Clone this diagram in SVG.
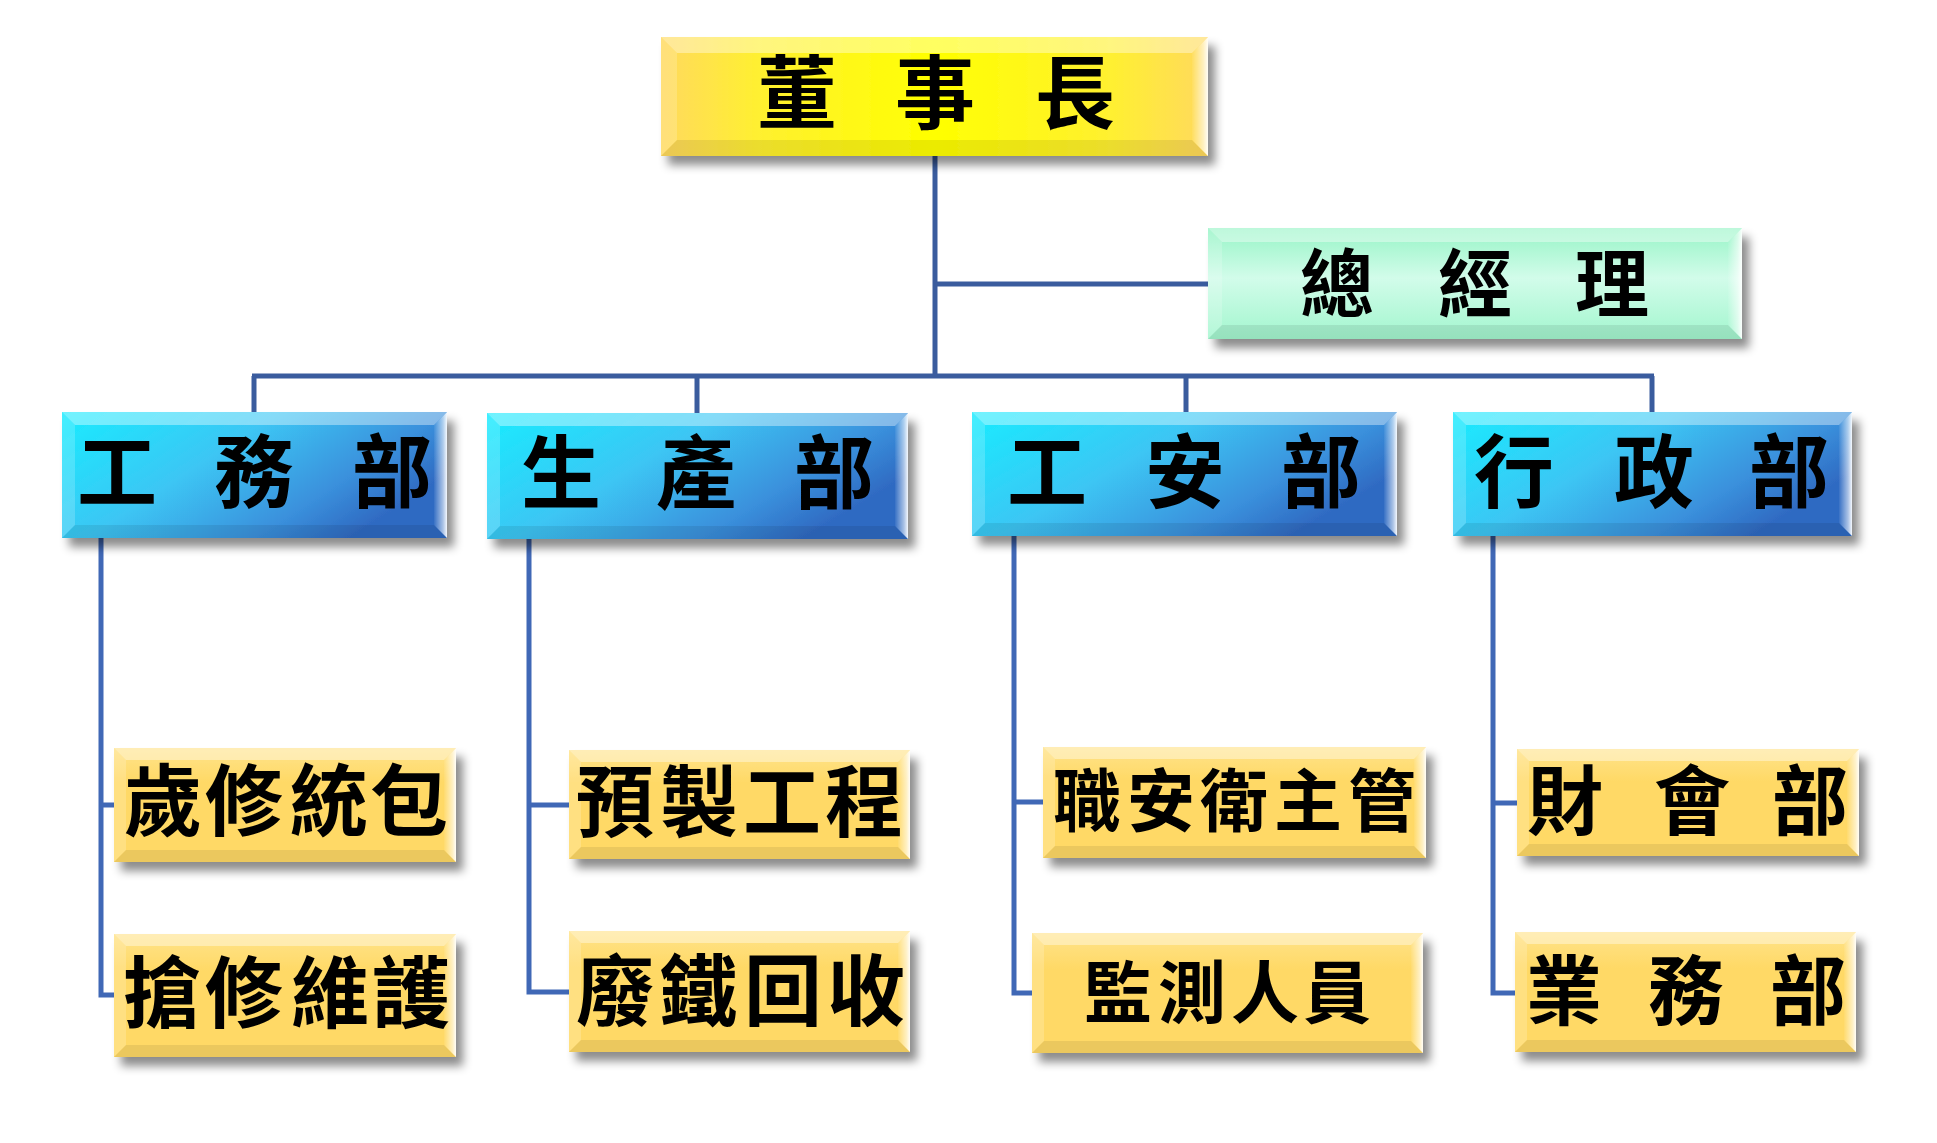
<svg xmlns="http://www.w3.org/2000/svg" width="1937" height="1143" viewBox="0 0 1937 1143">
<defs>
<style>
.t{font-family:"Noto Sans CJK TC","Noto Sans CJK SC",sans-serif;font-weight:700;fill:#000;text-anchor:middle;dominant-baseline:central}
.bt{fill:#fff;fill-opacity:.38}
.bl{fill:#fff;fill-opacity:.18}
.bb{fill:#000;fill-opacity:.08}
.br{fill:url(#hl)}
.c{fill:none;stroke:#3A5C9E;stroke-width:5}
.c2{fill:none;stroke:#4068B6;stroke-width:5}
</style>
<filter id="sh" x="-10%" y="-20%" width="125%" height="160%">
<feGaussianBlur in="SourceAlpha" stdDeviation="5"/>
<feOffset dx="7" dy="9" result="o"/>
<feFlood flood-color="#000" flood-opacity=".45"/>
<feComposite in2="o" operator="in" result="s"/>
<feMerge><feMergeNode in="s"/><feMergeNode in="SourceGraphic"/></feMerge>
</filter>
<linearGradient id="hl" x1="0" y1="0" x2="1" y2="0">
<stop offset="0" stop-color="#fff" stop-opacity=".05"/>
<stop offset=".7" stop-color="#fff" stop-opacity=".6"/>
<stop offset="1" stop-color="#fff" stop-opacity=".95"/>
</linearGradient>
<linearGradient id="gy" x1="0" y1="0" x2="1" y2="0">
<stop offset="0" stop-color="#FFD95E"/>
<stop offset=".18" stop-color="#FFF030"/>
<stop offset=".5" stop-color="#FFFF00"/>
<stop offset=".82" stop-color="#FFF030"/>
<stop offset="1" stop-color="#FFD95E"/>
</linearGradient>
<linearGradient id="gm" x1="0" y1="0" x2="0" y2="1">
<stop offset="0" stop-color="#96F4C6"/>
<stop offset=".45" stop-color="#D2FCEA"/>
<stop offset="1" stop-color="#A2F6CE"/>
</linearGradient>
<linearGradient id="gb" x1="0" y1="0" x2="1" y2="0.5">
<stop offset="0" stop-color="#18ECFF"/>
<stop offset=".45" stop-color="#3CC6F4"/>
<stop offset=".8" stop-color="#3A90DC"/>
<stop offset="1" stop-color="#2F6AC2"/>
</linearGradient>
<linearGradient id="go" x1="0" y1="0" x2="0" y2="1">
<stop offset="0" stop-color="#FFE38A"/>
<stop offset=".3" stop-color="#FFD966"/>
<stop offset="1" stop-color="#FFD966"/>
</linearGradient>
</defs>
<rect width="1937" height="1143" fill="#fff"/>

<g id="connectors">
<path class="c" d="M935 156V378M935 284H1208M252 376H1654M254 376V412M697 376V413M1186 376V412M1652 376V412"/>
<path class="c2" d="M101 538V995H114M101 805H114M529 539V992H569M529 805H569M1014 536V993H1032M1014 802H1043M1493 536V993H1515M1493 803H1517"/>
</g>

<g id="chairman">
<rect x="661" y="37" width="547" height="119" fill="url(#gy)" filter="url(#sh)"/>
<polygon class="bt" points="661,37 1208,37 1192,53 677,53"/>
<polygon class="bl" points="661,37 677,53 677,140 661,156"/>
<polygon class="bb" points="661,156 677,140 1192,140 1208,156"/>
<polygon class="br" points="1208,37 1208,156 1192,140 1192,53"/>
<text class="t" font-size="80" x="797 866 935 1005 1075" y="87">董 事 長</text>
</g>

<g id="gm-node">
<rect x="1208" y="228" width="534" height="111" fill="url(#gm)" filter="url(#sh)"/>
<polygon class="bt" points="1208,228 1742,228 1728,242 1222,242"/>
<polygon class="bl" points="1208,228 1222,242 1222,325 1208,339"/>
<polygon class="bb" points="1208,339 1222,325 1728,325 1742,339"/>
<polygon class="br" points="1742,228 1742,339 1728,325 1728,242"/>
<text class="t" font-size="74" x="1337 1406 1475 1543 1612" y="278">總 經 理</text>
</g>

<g id="dept-works">
<rect x="62" y="412" width="385" height="126" fill="url(#gb)" filter="url(#sh)"/>
<polygon class="bt" points="62,412 447,412 434,425 75,425"/>
<polygon class="bl" points="62,412 75,425 75,525 62,538"/>
<polygon class="bb" points="62,538 75,525 434,525 447,538"/>
<polygon class="br" points="447,412 447,538 434,525 434,425"/>
<text class="t" font-size="80" x="117 185 254 323 392" y="466">工 務 部</text>
</g>

<g id="dept-production">
<rect x="487" y="413" width="421" height="126" fill="url(#gb)" filter="url(#sh)"/>
<polygon class="bt" points="487,413 908,413 895,426 500,426"/>
<polygon class="bl" points="487,413 500,426 500,526 487,539"/>
<polygon class="bb" points="487,539 500,526 895,526 908,539"/>
<polygon class="br" points="908,413 908,539 895,526 895,426"/>
<text class="t" font-size="80" x="561 628 696 765 834" y="467">生 產 部</text>
</g>

<g id="dept-safety">
<rect x="972" y="412" width="425" height="124" fill="url(#gb)" filter="url(#sh)"/>
<polygon class="bt" points="972,412 1397,412 1384,425 985,425"/>
<polygon class="bl" points="972,412 985,425 985,523 972,536"/>
<polygon class="bb" points="972,536 985,523 1384,523 1397,536"/>
<polygon class="br" points="1397,412 1397,536 1384,523 1384,425"/>
<text class="t" font-size="80" x="1047 1116 1185 1253 1321" y="466">工 安 部</text>
</g>

<g id="dept-admin">
<rect x="1453" y="412" width="399" height="124" fill="url(#gb)" filter="url(#sh)"/>
<polygon class="bt" points="1453,412 1852,412 1839,425 1466,425"/>
<polygon class="bl" points="1453,412 1466,425 1466,523 1453,536"/>
<polygon class="bb" points="1453,536 1466,523 1839,523 1852,536"/>
<polygon class="br" points="1852,412 1852,536 1839,523 1839,425"/>
<text class="t" font-size="80" x="1514 1584 1654 1721 1789" y="466">行 政 部</text>
</g>

<g id="annual-repair">
<rect x="114" y="748" width="342" height="114" fill="url(#go)" filter="url(#sh)"/>
<polygon class="bt" points="114,748 456,748 444,760 126,760"/>
<polygon class="bl" points="114,748 126,760 126,850 114,862"/>
<polygon class="bb" points="114,862 126,850 444,850 456,862"/>
<polygon class="br" points="456,748 456,862 444,850 444,760"/>
<text class="t" font-size="78" x="163 244 329 409" y="796">歲修統包</text>
</g>

<g id="emergency-repair">
<rect x="114" y="934" width="342" height="123" fill="url(#go)" filter="url(#sh)"/>
<polygon class="bt" points="114,934 456,934 444,946 126,946"/>
<polygon class="bl" points="114,934 126,946 126,1045 114,1057"/>
<polygon class="bb" points="114,1057 126,1045 444,1045 456,1057"/>
<polygon class="br" points="456,934 456,1057 444,1045 444,946"/>
<text class="t" font-size="78" x="162 244 330 411" y="988">搶修維護</text>
</g>

<g id="prefab">
<rect x="569" y="750" width="341" height="109" fill="url(#go)" filter="url(#sh)"/>
<polygon class="bt" points="569,750 910,750 898,762 581,762"/>
<polygon class="bl" points="569,750 581,762 581,847 569,859"/>
<polygon class="bb" points="569,859 581,847 898,847 910,859"/>
<polygon class="br" points="910,750 910,859 898,847 898,762"/>
<text class="t" font-size="78" x="615 699 782 864" y="797">預製工程</text>
</g>

<g id="scrap">
<rect x="569" y="931" width="341" height="121" fill="url(#go)" filter="url(#sh)"/>
<polygon class="bt" points="569,931 910,931 898,943 581,943"/>
<polygon class="bl" points="569,931 581,943 581,1040 569,1052"/>
<polygon class="bb" points="569,1052 581,1040 898,1040 910,1052"/>
<polygon class="br" points="910,931 910,1052 898,1040 898,943"/>
<text class="t" font-size="78" x="615 698 783 866" y="986">廢鐵回收</text>
</g>

<g id="safety-manager">
<rect x="1043" y="747" width="383" height="111" fill="url(#go)" filter="url(#sh)"/>
<polygon class="bt" points="1043,747 1426,747 1414,759 1055,759"/>
<polygon class="bl" points="1043,747 1055,759 1055,846 1043,858"/>
<polygon class="bb" points="1043,858 1055,846 1414,846 1426,858"/>
<polygon class="br" points="1426,747 1426,858 1414,846 1414,759"/>
<text class="t" font-size="68" x="1087 1161 1234 1308 1382" y="796">職安衛主管</text>
</g>

<g id="monitoring">
<rect x="1032" y="933" width="391" height="120" fill="url(#go)" filter="url(#sh)"/>
<polygon class="bt" points="1032,933 1423,933 1411,945 1044,945"/>
<polygon class="bl" points="1032,933 1044,945 1044,1041 1032,1053"/>
<polygon class="bb" points="1032,1053 1044,1041 1411,1041 1423,1053"/>
<polygon class="br" points="1423,933 1423,1053 1411,1041 1411,945"/>
<text class="t" font-size="68" x="1118 1192 1265 1337" y="988">監測人員</text>
</g>

<g id="finance">
<rect x="1517" y="749" width="342" height="107" fill="url(#go)" filter="url(#sh)"/>
<polygon class="bt" points="1517,749 1859,749 1847,761 1529,761"/>
<polygon class="bl" points="1517,749 1529,761 1529,844 1517,856"/>
<polygon class="bb" points="1517,856 1529,844 1847,844 1859,856"/>
<polygon class="br" points="1859,749 1859,856 1847,844 1847,761"/>
<text class="t" font-size="76" x="1565 1628 1692 1751 1810" y="796">財 會 部</text>
</g>

<g id="sales">
<rect x="1515" y="932" width="341" height="120" fill="url(#go)" filter="url(#sh)"/>
<polygon class="bt" points="1515,932 1856,932 1844,944 1527,944"/>
<polygon class="bl" points="1515,932 1527,944 1527,1040 1515,1052"/>
<polygon class="bb" points="1515,1052 1527,1040 1844,1040 1856,1052"/>
<polygon class="br" points="1856,932 1856,1052 1844,1040 1844,944"/>
<text class="t" font-size="76" x="1564 1625 1686 1747 1808" y="986">業 務 部</text>
</g>
</svg>
